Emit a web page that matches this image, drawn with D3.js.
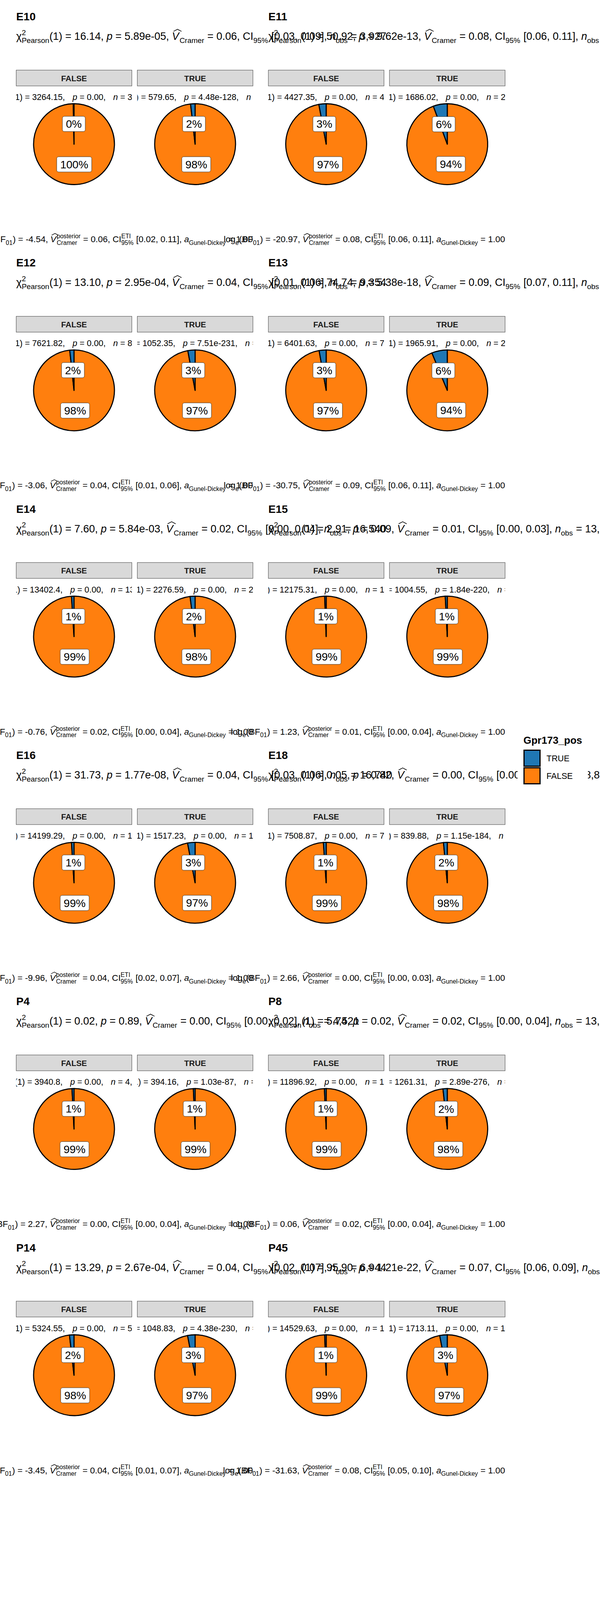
<!DOCTYPE html>
<html>
<head>
<meta charset="utf-8">
<script src="https://cdn.jsdelivr.net/npm/d3@7"></script>
<style>
  body { margin: 0; background: #fff; }
  text { font-family: "Liberation Sans", Arial, Helvetica, sans-serif; }
</style>
</head>
<body>
<svg id="chart"></svg>
<script>
// ---- data ----
const panels = ["E10", "E11", "E12", "E13", "E14", "E15", "E16", "E18", "P4", "P8", "P14", "P45"];
const groups = ["FALSE", "TRUE"];
const legendLevels = ["TRUE", "FALSE"];

// share of Gpr173_pos == TRUE inside each facet
const shareInFalse = [0.003, 0.029, 0.017, 0.028, 0.010, 0.006, 0.010, 0.011, 0.008, 0.007, 0.018, 0.006];
const shareInTrue  = [0.018, 0.056, 0.029, 0.062, 0.020, 0.008, 0.030, 0.015, 0.007, 0.017, 0.030, 0.030];

// subtitle: Pearson chi-square test
const chiPearson = ["16.14", "50.92", "13.10", "74.74", "7.60", "2.91", "31.73", "0.05", "0.02", "5.74", "13.29", "95.90"];
const pPearson = ["5.89e-05", "9.62e-13", "2.95e-04", "5.38e-18", "5.84e-03", "0.09", "1.77e-08", "0.82", "0.89", "0.02", "2.67e-04", "1.21e-22"];
const vCramer = ["0.06", "0.08", "0.04", "0.09", "0.02", "0.01", "0.04", "0.00", "0.00", "0.02", "0.04", "0.07"];
const ciLow  = ["0.03", "0.06", "0.01", "0.07", "0.00", "0.00", "0.03", "0.00", "0.00", "0.00", "0.02", "0.06"];
const ciHigh = ["0.09", "0.11", "0.06", "0.11", "0.04", "0.03", "0.06", "0.02", "0.02", "0.04", "0.07", "0.09"];
const nObs = ["3,927", "7,127", "9,354", "9,746", "16,540", "13,724", "16,740", "8,812", "4,521", "13,756", "6,944", "17,068"];

// caption: Bayesian test
const logBF = ["-4.54", "-20.97", "-3.06", "-30.75", "-0.76", "1.23", "-9.96", "2.66", "2.27", "0.06", "-3.45", "-31.63"];
const vPosterior = ["0.06", "0.08", "0.04", "0.09", "0.02", "0.01", "0.04", "0.00", "0.00", "0.02", "0.04", "0.08"];
const etiLow  = ["0.02", "0.06", "0.01", "0.06", "0.00", "0.00", "0.02", "0.00", "0.00", "0.00", "0.01", "0.05"];
const etiHigh = ["0.11", "0.11", "0.06", "0.11", "0.04", "0.04", "0.07", "0.03", "0.04", "0.04", "0.07", "0.10"];
const gunelDickey = "1.00";

// facet labels: goodness of fit tests
const chiGofFalse = ["3264.15", "4427.35", "7621.82", "6401.63", "13402.4", "12175.31", "14199.29", "7508.87", "3940.8", "11896.92", "5324.55", "14529.63"];
const pGofFalse = ["0.00", "0.00", "0.00", "0.00", "0.00", "0.00", "0.00", "0.00", "0.00", "0.00", "0.00", "0.00"];
const nFalse = ["3,304", "4,989", "8,168", "7,184", "13,955", "12,470", "14,784", "7,818", "4,103", "12,387", "5,778", "15,129"];
const chiGofTrue = ["579.65", "1686.02", "1052.35", "1965.91", "2276.59", "1004.55", "1517.23", "839.88", "394.16", "1261.31", "1048.83", "1713.11"];
const pGofTrue = ["4.48e-128", "0.00", "7.51e-231", "0.00", "0.00", "1.84e-220", "0.00", "1.15e-184", "1.03e-87", "2.89e-276", "4.38e-230", "0.00"];
const nTrue = ["623", "2,138", "1,186", "2,562", "2,470", "1,046", "1,717", "911", "410", "1,369", "1,187", "1,939"];

// ---- layout ----
const W = 1536, H = 4608;
const panelW = 606, radius = 103.5;

const svg = d3.select("#chart").attr("width", W).attr("height", H);
svg.append("rect").attr("width", W).attr("height", H).attr("fill", "#fff");

const colour = d3.scaleOrdinal().domain(legendLevels).range(["#1F77B4", "#FF7F0E"]);
const colX = d3.scaleOrdinal().domain([0, 1]).range([41.5, 687]);
const rowY = d3.scaleLinear().domain([0, 1]).range([0, 630.3]);
const facetX = d3.scaleBand().domain(groups).range([0, panelW]).paddingInner(0.0452);

const pie = d3.pie().sort(null).value(d => d.share);
const arc = d3.arc().innerRadius(0).outerRadius(radius);

// small plotmath-like text builder
function put(g, str, x, y, size, italic, bold) {
  const t = g.append("text")
    .attr("x", x).attr("y", y)
    .attr("font-size", size)
    .style("white-space", "pre")
    .text(str);
  if (italic) t.attr("font-style", "italic");
  if (bold) t.attr("font-weight", "bold");
  return t.node().getComputedTextLength();
}

function mathText(g, tokens, size) {
  let x = 0;
  const small = size * 0.7;
  tokens.forEach(tk => {
    if (tk.gap) { x += tk.gap * size; return; }
    if (tk.sup !== undefined || tk.sub !== undefined) {
      let w = 0;
      if (tk.sup !== undefined) w = Math.max(w, put(g, tk.sup, x, -0.45 * size, small));
      if (tk.sub !== undefined) w = Math.max(w, put(g, tk.sub, x, 0.3 * size, small));
      x += w + 0.02 * size;
      return;
    }
    if (tk.hat) {
      const w = put(g, tk.hat, x, 0, size, true);
      g.append("path")
        .attr("d", `M${x + 0.14 * size},${-0.8 * size} L${x + 0.52 * size},${-1.0 * size} L${x + 0.9 * size},${-0.8 * size}`)
        .attr("fill", "none").attr("stroke", "#000").attr("stroke-width", 0.06 * size);
      x += w + 0.05 * size;
      return;
    }
    x += put(g, tk.t, x, 0, size, tk.it);
  });
  return x;
}

panels.forEach((name, i) => {
  const x0 = colX(i % 2);
  const y0 = rowY(Math.floor(i / 2));
  const g = svg.append("g").attr("transform", `translate(${x0},${y0})`);

  // title
  put(g, name, 0, 52, 28, false, true);

  // subtitle
  const sub = g.append("g").attr("transform", "translate(0,102)");
  mathText(sub, [
    {t: "χ"}, {sup: "2", sub: "Pearson"}, {t: "(1) = " + chiPearson[i] + ", "},
    {t: "p", it: true}, {t: " = " + pPearson[i] + ", "},
    {hat: "V"}, {sub: "Cramer"}, {t: " = " + vCramer[i] + ", CI"}, {sub: "95%"},
    {t: " [" + ciLow[i] + ", " + ciHigh[i] + "], "}, {t: "n", it: true}, {sub: "obs"},
    {t: " = " + nObs[i]}
  ], 27);

  // facets
  groups.forEach(grp => {
    const fx = facetX(grp);
    const bw = facetX.bandwidth();
    const f = grp === "FALSE" ? shareInFalse[i] : shareInTrue[i];
    const chi = grp === "FALSE" ? chiGofFalse[i] : chiGofTrue[i];
    const pv = grp === "FALSE" ? pGofFalse[i] : pGofTrue[i];
    const nn = grp === "FALSE" ? nFalse[i] : nTrue[i];

    // strip
    g.append("rect")
      .attr("x", fx).attr("y", 179.5).attr("width", bw).attr("height", 40.5)
      .attr("fill", "#D9D9D9").attr("stroke", "#595959").attr("stroke-width", 1.2);
    g.append("text")
      .attr("x", fx + bw / 2).attr("y", 207.5)
      .attr("text-anchor", "middle").attr("font-size", 20.5)
      .attr("font-weight", "bold").attr("fill", "#1A1A1A")
      .text(grp);

    // goodness-of-fit label, clipped to the facet
    const clipId = `clip-${i}-${grp}`;
    g.append("clipPath").attr("id", clipId)
      .append("rect").attr("x", fx).attr("y", 225).attr("width", bw).attr("height", 45);
    const lab = g.append("g").attr("clip-path", `url(#${clipId})`).append("g");
    const lw = mathText(lab, [
      {t: "χ"}, {sup: "2", sub: "gof"}, {t: "(1) = " + chi + ","}, {gap: 0.9},
      {t: "p", it: true}, {t: " = " + pv + ","}, {gap: 0.9},
      {t: "n", it: true}, {t: " = " + nn}
    ], 21.6);
    lab.attr("transform", `translate(${fx + bw / 2 - lw / 2},256)`);

    // pie
    const cx = fx + bw / 2, cy = 369;
    const slices = pie([{level: "FALSE", share: 1 - f}, {level: "TRUE", share: f}]);
    const pg = g.append("g").attr("transform", `translate(${cx},${cy})`);
    pg.selectAll("path").data(slices).join("path")
      .attr("d", arc)
      .attr("fill", d => colour(d.data.level))
      .attr("stroke", "#000").attr("stroke-width", 2.8)
      .attr("stroke-linejoin", "round");

    const pctTrue = Math.round(f * 100);
    const labels = slices.map(d => ({
      pos: arc.centroid(d),
      txt: (d.data.level === "TRUE" ? pctTrue : 100 - pctTrue) + "%"
    }));
    labels.forEach(L => {
      const lg = pg.append("g").attr("transform", `translate(${L.pos[0]},${L.pos[1]})`);
      const rect = lg.append("rect");
      const t = lg.append("text").attr("text-anchor", "middle").attr("y", 10)
        .attr("font-size", 28).text(L.txt);
      const tw = t.node().getComputedTextLength();
      rect.attr("x", -tw / 2 - 9).attr("y", -19.5).attr("width", tw + 18).attr("height", 39)
        .attr("rx", 5).attr("fill", "#fff").attr("stroke", "#333").attr("stroke-width", 1);
    });
  });

  // caption, right aligned to the panel
  const cap = g.append("g");
  const cw = mathText(cap, [
    {t: "log"}, {sub: "e"}, {t: "(BF"}, {sub: "01"}, {t: ") = " + logBF[i] + ", "},
    {hat: "V"}, {sup: "posterior", sub: "Cramer"}, {t: " = " + vPosterior[i] + ", CI"},
    {sup: "ETI", sub: "95%"}, {t: " [" + etiLow[i] + ", " + etiHigh[i] + "], "},
    {t: "a", it: true}, {sub: "Gunel-Dickey"}, {t: " = " + gunelDickey}
  ], 22.4);
  cap.attr("transform", `translate(${panelW - cw},620)`);
});

// legend (collected guide, white background)
const leg = svg.append("g").attr("transform", "translate(1325,1866)");
leg.append("rect").attr("width", 180).attr("height", 158).attr("fill", "#fff");
put(leg, "Gpr173_pos", 15, 38, 26, false, true);
legendLevels.forEach((lv, k) => {
  const ky = 53 + k * 45;
  leg.append("rect").attr("x", 16.5).attr("y", ky + 1.5).attr("width", 41).attr("height", 41)
    .attr("fill", colour(lv)).attr("stroke", "#000").attr("stroke-width", 3);
  leg.append("text").attr("x", 74).attr("y", ky + 30).attr("font-size", 21.6).text(lv);
});
</script>
</body>
</html>
